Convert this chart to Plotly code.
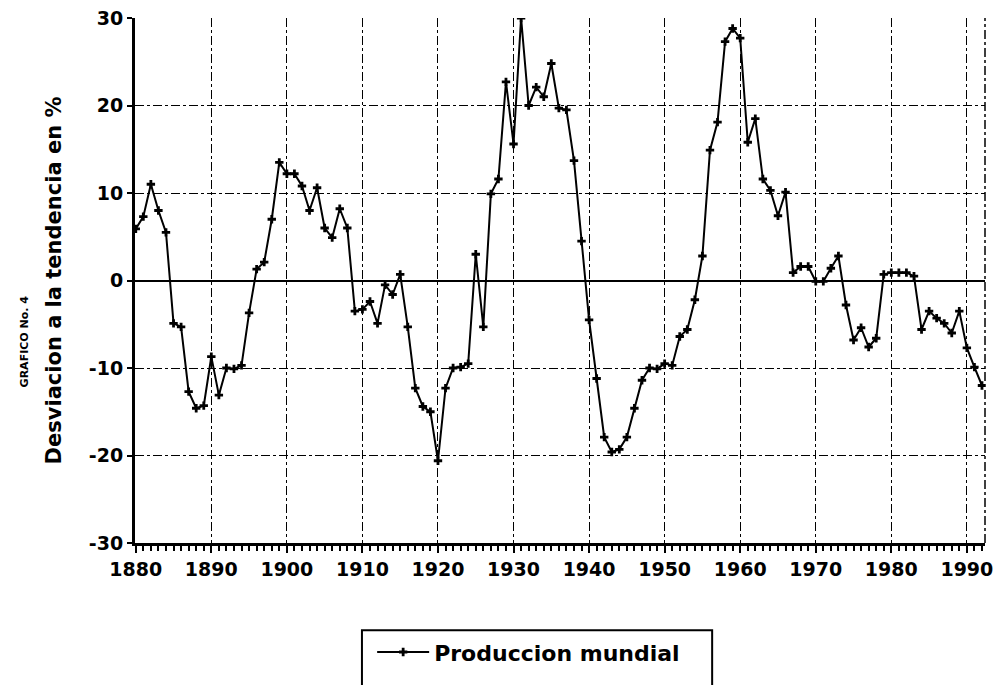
import plotly.graph_objects as go

# years 1880-1992, one value per year (deviation from trend, %)
years = list(range(1880, 1993))
produccion_mundial = [
    5.9, 7.3, 11.0, 8.0, 5.5, -4.9, -5.3, -12.7, -14.6, -14.3,      # 1880s
    -8.7, -13.1, -10.0, -10.1, -9.7, -3.7, 1.3, 2.1, 7.0, 13.5,     # 1890s
    12.2, 12.2, 10.8, 8.0, 10.6, 6.0, 4.9, 8.2, 6.0, -3.5,          # 1900s
    -3.3, -2.4, -4.9, -0.5, -1.6, 0.7, -5.3, -12.3, -14.4, -15.0,   # 1910s
    -20.6, -12.3, -10.0, -9.9, -9.5, 3.0, -5.3, 9.9, 11.6, 22.7,    # 1920s
    15.6, 30.0, 20.0, 22.1, 21.0, 24.8, 19.7, 19.5, 13.7, 4.5,      # 1930s
    -4.5, -11.2, -17.9, -19.6, -19.3, -17.9, -14.6, -11.4, -10.0, -10.1,  # 1940s
    -9.5, -9.7, -6.4, -5.6, -2.2, 2.8, 14.9, 18.1, 27.3, 28.8,      # 1950s
    27.7, 15.8, 18.5, 11.6, 10.3, 7.4, 10.1, 0.9, 1.6, 1.6,         # 1960s
    -0.1, -0.1, 1.4, 2.8, -2.8, -6.8, -5.4, -7.6, -6.6, 0.7,        # 1970s
    0.9, 0.9, 0.9, 0.5, -5.6, -3.5, -4.3, -4.9, -6.0, -3.5,         # 1980s
    -7.7, -9.9, -12.0,                                              # 1990s
]
x_ticks = [1880, 1890, 1900, 1910, 1920, 1930, 1940, 1950, 1960, 1970, 1980, 1990]
y_ticks = [-30, -20, -10, 0, 10, 20, 30]
y_tick_text = ["-30", "-20", "-10", "0", "10", "20", "30"]

FONT = "DejaVu Sans"

fig = go.Figure()
fig.add_trace(go.Scatter(
    x=years,
    y=produccion_mundial,
    mode="lines+markers",
    name="Produccion mundial",
    line=dict(color="black", width=2),
    marker=dict(symbol="cross", size=7, color="black"),
))

fig.update_xaxes(
    range=[1879.9, 1992.4],
    tickvals=x_ticks,
    ticks="outside", ticklen=7, tickwidth=2, tickcolor="black",
    minor=dict(dtick=1, ticks="outside", ticklen=5, tickwidth=1.5, tickcolor="black", showgrid=False),
    showline=True, linecolor="black", linewidth=3,
    showgrid=True, gridcolor="black", gridwidth=1, griddash="dashdot",
    tickfont=dict(family=FONT, size=19, color="black", weight="bold"),
    zeroline=False,
    automargin=False, ticklabeloverflow="allow",
)
fig.update_yaxes(
    range=[-30, 30],
    tickvals=y_ticks, ticktext=y_tick_text,
    ticks="outside", ticklen=5, tickwidth=2, tickcolor="black",
    showline=True, linecolor="black", linewidth=3,
    showgrid=True, gridcolor="black", gridwidth=1, griddash="dashdot",
    zeroline=True, zerolinecolor="black", zerolinewidth=2,
    tickfont=dict(family=FONT, size=19, color="black", weight="bold"),
    title=dict(text="Desviacion a la tendencia en %", standoff=22,
               font=dict(family=FONT, size=21, color="black", weight="bold")),
    automargin=False, ticklabeloverflow="allow",
)

# right edge of the frame is a dash-dot line in the original
fig.add_shape(type="line", xref="paper", yref="paper", x0=1, x1=1, y0=0, y1=1,
              line=dict(color="black", width=1.5, dash="dashdot"))

# legend frame (runs off the bottom of the page in the original)
fig.add_shape(type="rect", xref="paper", yref="paper", x0=0.267, x1=0.679, y0=-0.32, y1=-0.166,
              line=dict(color="black", width=2))

fig.add_annotation(text="GRAFICO No. 4", xref="paper", yref="paper",
                   x=-0.14, y=0.385, textangle=-90, showarrow=False,
                   font=dict(family=FONT, size=11, color="black", weight="bold"))

# page body adds an 8px offset, so margins are shifted to compensate
fig.update_layout(
    width=1008, height=685,
    margin=dict(l=127, r=31, t=10, b=150),
    paper_bgcolor="white", plot_bgcolor="white",
    showlegend=True,
    legend=dict(x=0.279, y=-0.168, xanchor="left", yanchor="top",
                borderwidth=0, bgcolor="rgba(0,0,0,0)",
                font=dict(family=FONT, size=22, color="black", weight="bold"),
                itemwidth=52),
)

fig.write_html("out.html")
